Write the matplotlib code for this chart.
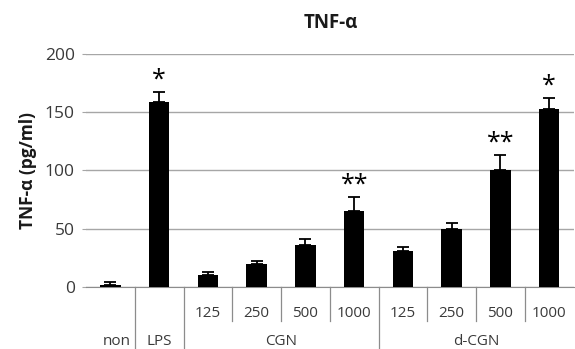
import matplotlib.pyplot as plt
import matplotlib.transforms as mtransforms

# data
groups = ["non", "LPS", "CGN", "d-CGN"]
doses = ["125", "250", "500", "1000"]
values = [2, 159, 10, 20, 36, 65, 31, 50, 100, 153]
errors = [2, 8, 3, 2, 5, 12, 3, 5, 13, 9]
stars = ["", "*", "", "", "", "**", "", "", "**", "*"]

txt = "#3a3a3a"
plt.rcParams['font.family'] = ['Open Sans', 'DejaVu Sans']

fig = plt.figure(figsize=(5.75, 3.49), dpi=100)
ax = fig.add_axes([0.1496, 0.1777, 0.848, 0.6676])

x = [i + 0.5 for i in range(len(values))]
ax.bar(x, values, width=0.42, color="black", zorder=3)
ax.errorbar(x, values, yerr=[[0] * len(errors), errors], fmt="none",
            ecolor="black", elinewidth=1.3, capsize=4, capthick=1.3, zorder=4)

for xi, v, e, s in zip(x, values, errors, stars):
    if s:
        ax.text(xi, v + e, s, ha="center", va="bottom", fontsize=18,
                color="black", zorder=5)

ax.set_xlim(0, 10)
ax.set_ylim(0, 200)
ax.set_yticks([0, 50, 100, 150, 200])
ax.yaxis.grid(True, color="#a6a6a6", linewidth=1, zorder=0)
ax.tick_params(axis="y", length=3, color="#a6a6a6", labelsize=12.5,
               labelcolor=txt, pad=5)
ax.set_xticks([])
for side in ["top", "right", "left"]:
    ax.spines[side].set_visible(False)
ax.spines["bottom"].set_color("#8c8c8c")

ax.set_ylabel("TNF-α (pg/ml)", fontsize=12.5, fontweight="bold", color="#1a1a1a",
              labelpad=6)
fig.text(0.575, 0.935, "TNF-α", ha="center", va="center", fontsize=13.5,
         fontweight="bold", color="#1a1a1a")

# table-like category axis below the plot
trans = mtransforms.blended_transform_factory(ax.transData, ax.transAxes)
full = [1, 2, 6]
short = [3, 4, 5, 7, 8, 9]
for b in full:
    ax.plot([b, b], [0, -0.266], color="#8c8c8c", lw=0.9, transform=trans,
            clip_on=False)
for b in short:
    ax.plot([b, b], [0, -0.145], color="#8c8c8c", lw=0.9, transform=trans,
            clip_on=False)

for k in range(2, 10):
    ax.text(k + 0.5, -0.112, doses[(k - 2) % 4], ha="center", va="center",
            fontsize=11, color=txt, transform=trans)

group_x = [0.62, 1.5, 4.0, 8.0]
for gx, g in zip(group_x, groups):
    ax.text(gx, -0.232, g, ha="center", va="center", fontsize=11,
            color=txt, transform=trans)

fig.savefig("out.png", dpi=100)
